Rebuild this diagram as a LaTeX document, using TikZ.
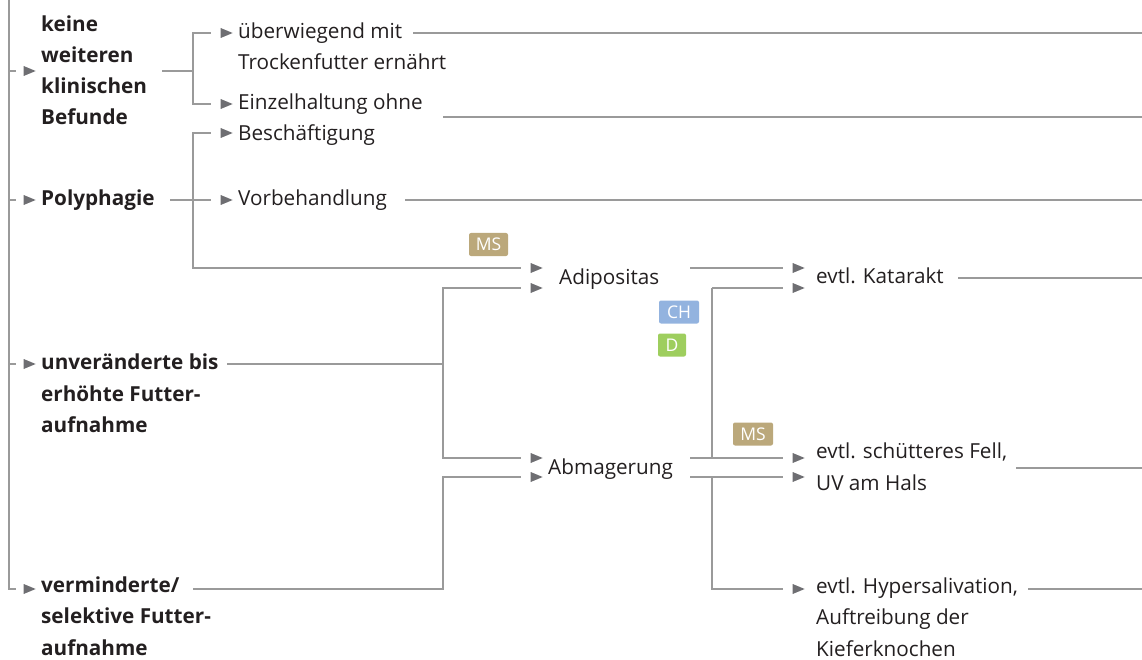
\documentclass[tikz,border=0pt]{standalone}
\usepackage{fontspec}
\setmainfont{Open Sans}
\usetikzlibrary{shapes.geometric}
\definecolor{lngray}{HTML}{9A9A9A}
\definecolor{trigray}{HTML}{6E6E72}
\definecolor{txt}{HTML}{231F20}
\definecolor{msc}{HTML}{BBA87B}
\definecolor{chc}{HTML}{93B3DF}
\definecolor{dc}{HTML}{9ECE5E}
\tikzset{
  ln/.style={draw=lngray, line width=1.2pt},
  lnarr/.style={ln, shorten >=9pt},
  lbl/.style={anchor=base west, inner sep=0pt, align=left, text=txt,
     font=\fontsize{20.7}{31.3}\selectfont},
  bld/.style={font=\fontsize{20.7}{31.3}\selectfont\bfseries},
  tri/.style={isosceles triangle, isosceles triangle stretches, shape border rotate=0,
     fill=trigray, draw=none, inner sep=0pt, minimum width=10pt, minimum height=12pt},
  badge/.style={rounded corners=2pt, inner sep=0pt, text=white,
     minimum height=23pt, font=\fontsize{17.5}{17.5}\selectfont},
}
\begin{document}
\begin{tikzpicture}[x=1pt,y=-1pt]
\useasboundingbox (0,0) rectangle (1142,660);

% texts (anchor = baseline of the last line)
\node[lbl,bld] (keine) at (41,125) {keine\\weiteren\\klinischen\\Befunde};
\node[lbl,bld] (poly) at (41,206) {Polyphagie};
\node[lbl,bld] (unv) at (41,432.5) {unveränderte bis\\erhöhte Futter-\\aufnahme};
\node[lbl,bld] (verm) at (41,655) {verminderte/\\selektive Futter-\\aufnahme};
\node[lbl] (ueb) at (238,70) {überwiegend mit\\Trockenfutter ernährt};
\node[lbl] (einz) at (238,110) {Einzelhaltung ohne};
\node[lbl] (besch) at (238,141) {Beschäftigung};
\node[lbl] (vorb) at (238,206) {Vorbehandlung};
\node[lbl] (adip) at (559,284) {Adipositas};
\node[lbl] (abm) at (548,474) {Abmagerung};
\node[lbl] (kat) at (816,283) {evtl. Katarakt};
\node[lbl] (fell) at (816,490) {evtl. schütteres Fell,\\UV am Hals};
\node[lbl] (hyp) at (816,656) {evtl. Hypersalivation,\\Auftreibung der\\Kieferknochen};

% triangles
\node[tri] (tkeine) at (27,71) {};
\node[tri] (tpoly) at (27,200) {};
\node[tri] (tunv) at (27,364) {};
\node[tri] (tverm) at (27,589) {};
\node[tri] (tueb) at (224,33) {};
\node[tri] (teinz) at (224,104) {};
\node[tri] (tbesch) at (224,133) {};
\node[tri] (tvorb) at (224,200) {};
\node[tri] (tadA) at (534,268) {};
\node[tri] (tadB) at (534,288) {};
\node[tri] (tabA) at (534,458) {};
\node[tri] (tabB) at (534,477) {};
\node[tri] (tkatA) at (796,268) {};
\node[tri] (tkatB) at (796,288) {};
\node[tri] (tfellA) at (796,458) {};
\node[tri] (tfellB) at (796,477) {};
\node[tri] (thyp) at (796,589) {};

% badges
\node[badge,fill=msc,minimum width=39pt] (ms1) at (488.5,244.5) {MS};
\node[badge,fill=chc,minimum width=40pt] (ch) at (679,312) {CH};
\node[badge,fill=dc,minimum width=28pt] (dd) at (672,345) {D};
\node[badge,fill=msc,minimum width=40pt] (ms2) at (753,434) {MS};

% spine
\coordinate (spine) at (9,0);
\draw[ln,shorten >=7pt] (spine) |- (tverm);
\draw[ln,shorten >=7pt] (spine |- tkeine) -- (tkeine);
\draw[ln,shorten >=7pt] (spine |- tpoly) -- (tpoly);
\draw[ln,shorten >=7pt] (spine |- tunv) -- (tunv);

% keine bracket
\coordinate (kout) at (162,71);
\coordinate (kj) at (193,71);
\draw[ln] (kout) -- (kj);
\draw[lnarr] (kj) |- (tueb);
\draw[lnarr] (kj) |- (teinz);

% polyphagie bracket
\coordinate (pout) at (170,200);
\coordinate (pj) at (193,200);
\draw[ln] (pout) -- (pj);
\draw[lnarr] (pj) |- (tbesch);
\draw[lnarr] (pj) -- (tvorb);
\draw[lnarr] (pj) |- (tadA);

% unveraenderte bracket
\coordinate (uout) at (227,364);
\coordinate (uj) at (443,364);
\draw[ln] (uout) -- (uj);
\draw[lnarr] (uj) |- (tadB);
\draw[lnarr] (uj) |- (tabA);

% verminderte
\coordinate (vout) at (193,589);
\draw[lnarr] (vout) -| (443,477) -- (tabB);

% adipositas out
\coordinate (aoutA) at (690,268);
\draw[lnarr] (aoutA) -- (tkatA);
\coordinate (aj) at (712,288);
\draw[lnarr] (aj) -- (tkatB);
\draw[ln] (aj) -- (712,458);

% abmagerung out
\coordinate (boutA) at (690,458);
\coordinate (boutB) at (690,477);
\draw[lnarr] (boutA) -- (tfellA);
\draw[lnarr] (boutB) -- (tfellB);
\draw[lnarr] (712,477) |- (thyp);

% free lines to right edge
\coordinate (re1) at (1142,33);
\coordinate (re2) at (1142,117);
\coordinate (re3) at (1142,200);
\coordinate (re4) at (1142,278);
\coordinate (re5) at (1142,468);
\coordinate (re6) at (1142,589);
\draw[ln] (413,33) -- (re1);
\draw[ln] (443,117) -- (re2);
\draw[ln] (405,200) -- (re3);
\draw[ln] (958,278) -- (re4);
\draw[ln] (1016,468) -- (re5);
\draw[ln] (1028,589) -- (re6);
\end{tikzpicture}
\end{document}
